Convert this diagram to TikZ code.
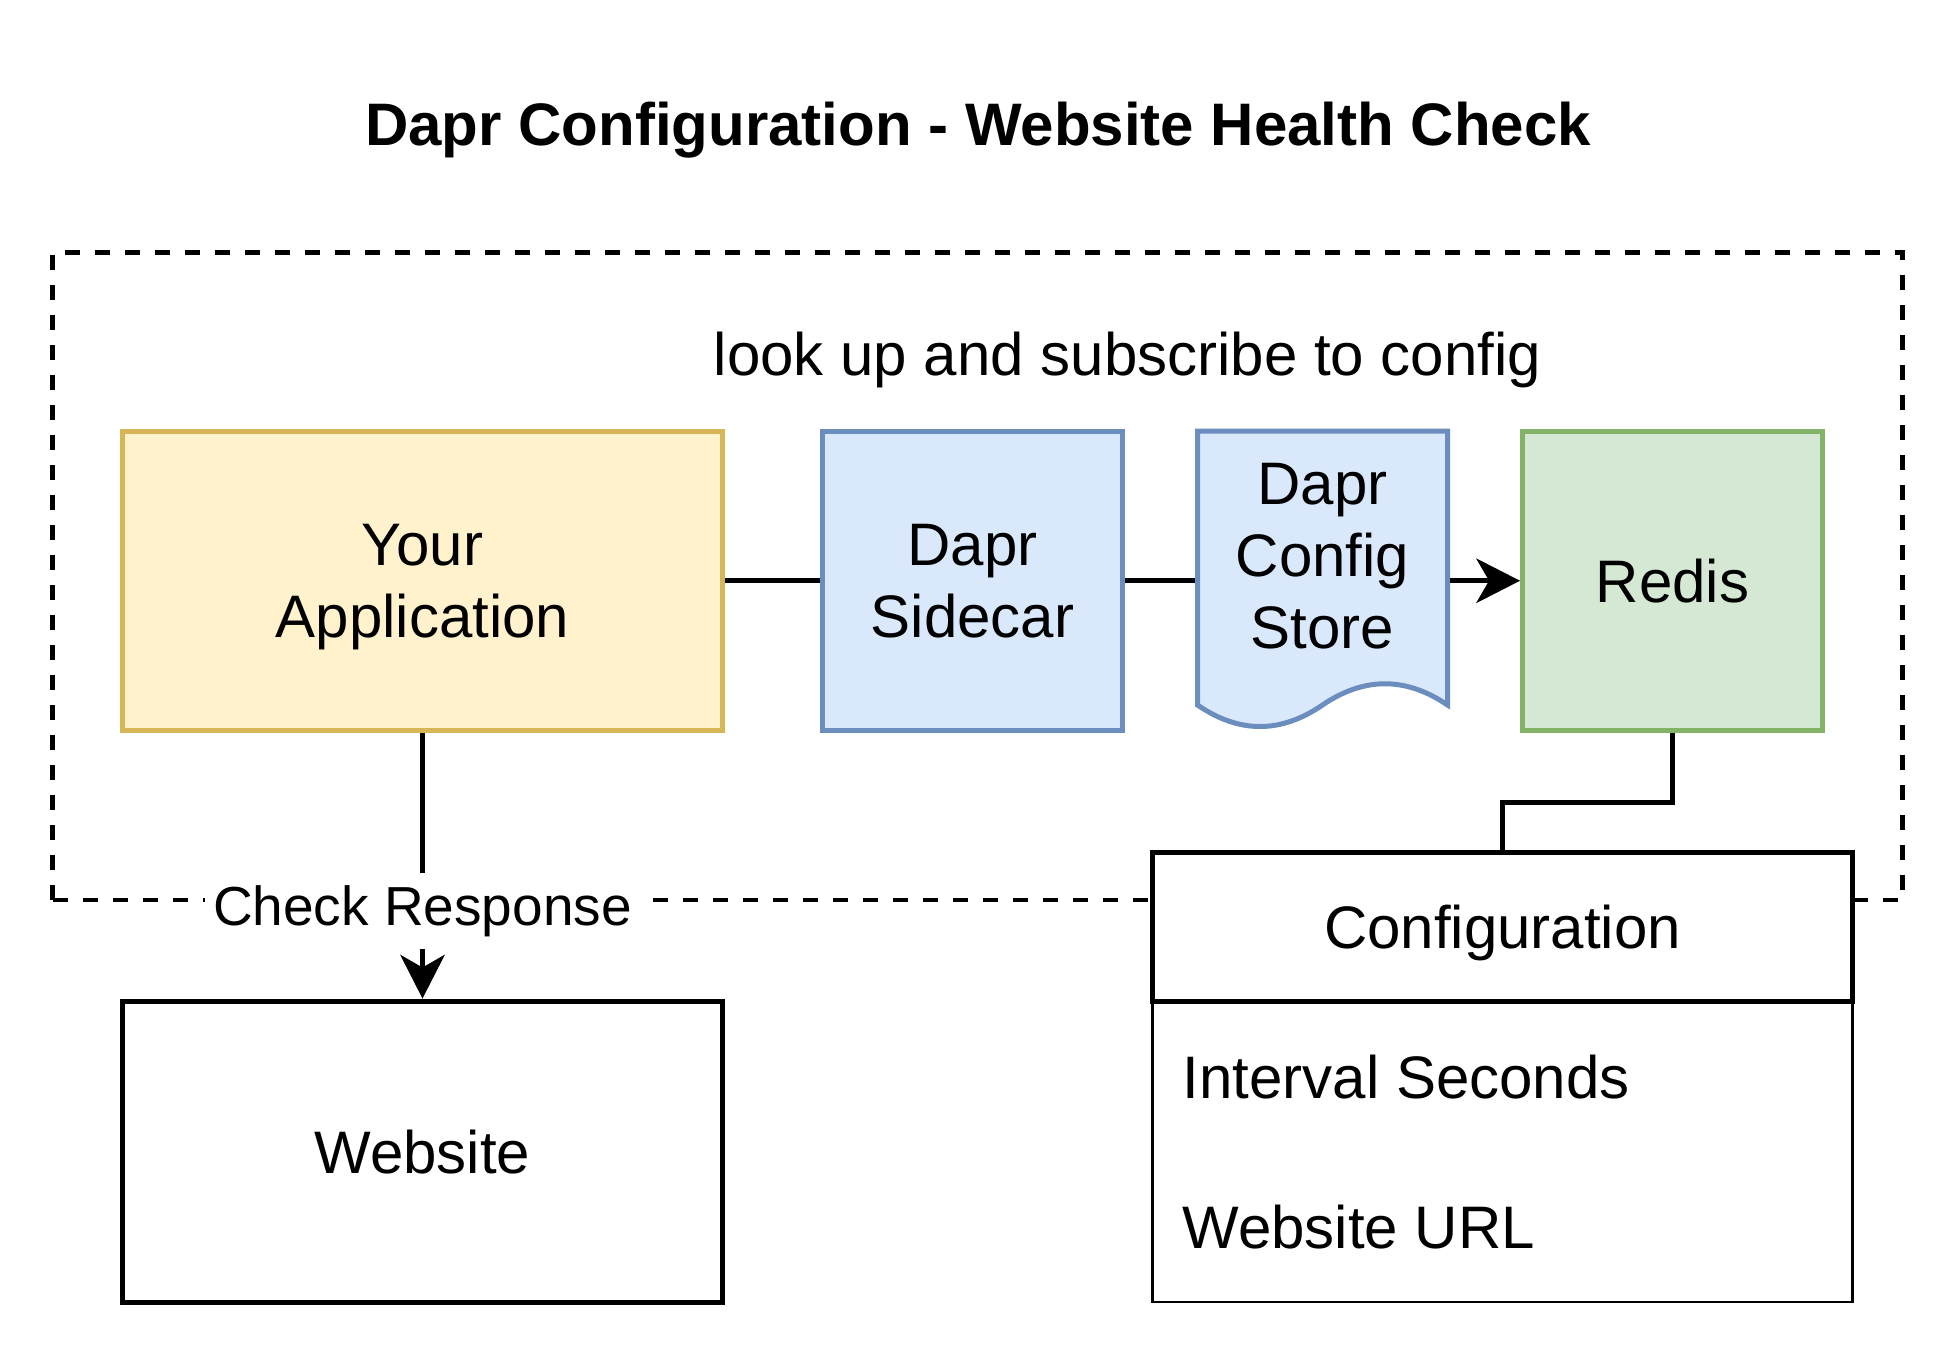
\documentclass[tikz,border=0pt]{standalone}
\usepackage{fontspec}
\setmainfont{Liberation Sans}
\usetikzlibrary{arrows.meta}
\definecolor{appfill}{HTML}{FFF2CC}
\definecolor{appdraw}{HTML}{D6B656}
\definecolor{bluefill}{HTML}{DAE8FC}
\definecolor{bluedraw}{HTML}{6C8EBF}
\definecolor{greenfill}{HTML}{D5E8D4}
\definecolor{greendraw}{HTML}{82B366}
\begin{document}
\begin{tikzpicture}[x=1pt,y=-1pt,
  txt/.style={inner sep=0pt, text depth=0pt, align=center, font=\fontsize{60}{72}\selectfont},
  box/.style={txt, draw, line width=5pt},
  conn/.style={line width=5pt},
  arr/.style={-{Stealth[length=44pt,width=45pt,inset=13pt,line width=0pt]}},
  framebox/.style={draw, line width=4.5pt, dash pattern=on 15pt off 15pt, inner sep=0pt},
  lbl/.style={fill=white, font=\fontsize{55}{66}\selectfont, inner xsep=8pt, inner ysep=12pt}
]
\fill[white] (0,0) rectangle (1960,1360);
\useasboundingbox (0,0) rectangle (1960,1360);

\node[txt, font=\bfseries\fontsize{60}{72}\selectfont] (title) at (978,123.3) {Dapr Configuration - Website Health Check};

\node[framebox, minimum width=1850pt, minimum height=647.5pt] (frame) at (977.5,576.25) {};

\node[txt] (look) at (1127.5,354) {look up and subscribe to config};

\node[box, fill=appfill, draw=appdraw, minimum width=600pt, minimum height=299.5pt] (app) at (422.5,580.75) {Your\\Application};
\node[box, fill=bluefill, draw=bluedraw, minimum width=300pt, minimum height=299.5pt] (side) at (972.5,580.75) {Dapr\\Sidecar};
\node[box, draw=none, line width=5pt, minimum width=250pt, minimum height=299.5pt] (store) at (1322.5,580.75) {};
\draw[line width=5pt, draw=bluedraw, fill=bluefill]
  (1197.5,431) -- (1447.5,431) -- (1447.5,705)
  .. controls (1405.83,676.67) and (1364.17,676.67) .. (1322.5,705)
  .. controls (1280.83,733.67) and (1239.17,733.67) .. (1197.5,705) -- cycle;
\node[txt] (storetxt) at ([yshift=24.5pt]store.center) {Dapr\\Config\\Store};
\node[box, fill=greenfill, draw=greendraw, minimum width=300pt, minimum height=299.5pt] (redis) at (1672.5,580.75) {Redis};

\node[box, fill=white, minimum width=600pt, minimum height=301pt] (web) at (422.5,1151.5) {Website};

\draw[conn] (app.east) -- (side.west);
\draw[conn] (side.east) -- (store.west);
\draw[conn, arr] (store.east) -- (redis.west);
\draw[conn, arr] (app.south) -- node[lbl, pos=0.67] (crlbl) {Check Response} (web.north);

\coordinate (cmid) at (1590,802);
\draw[conn] (redis.south) |- (cmid) -| (1502.5,850);

\node[draw, fill=white, line width=2.5pt, inner sep=0pt, minimum width=700pt, minimum height=301pt] (confbody) at (1502.5,1151.5) {};
\node[box, fill=white, minimum width=700pt, minimum height=148.5pt] (confhead) at (1502.5,926.75) {Configuration};
\node[txt, anchor=west] (row1) at (1182.5,1077) {Interval Seconds};
\node[txt, anchor=west] (row2) at (1182.5,1227) {Website URL};
\end{tikzpicture}
\end{document}
